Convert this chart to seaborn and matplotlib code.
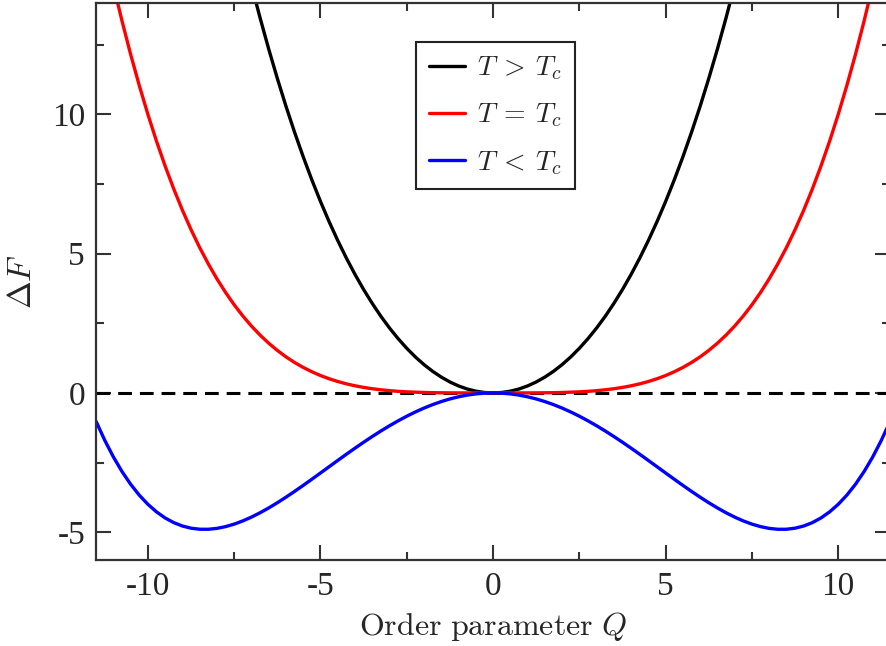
import matplotlib
matplotlib.use("Agg")
import matplotlib.pyplot as plt
from matplotlib.ticker import MultipleLocator
import pandas as pd
import seaborn as sns

# Order parameter grid (quarter-unit steps)
q_full = [-11.5, -11.25, -11.0, -10.75, -10.5, -10.25, -10.0, -9.75, -9.5, -9.25,
          -9.0, -8.75, -8.5, -8.25, -8.0, -7.75, -7.5, -7.25, -7.0, -6.75, -6.5,
          -6.25, -6.0, -5.75, -5.5, -5.25, -5.0, -4.75, -4.5, -4.25, -4.0, -3.75,
          -3.5, -3.25, -3.0, -2.75, -2.5, -2.25, -2.0, -1.75, -1.5, -1.25, -1.0,
          -0.75, -0.5, -0.25, 0.0, 0.25, 0.5, 0.75, 1.0, 1.25, 1.5, 1.75, 2.0,
          2.25, 2.5, 2.75, 3.0, 3.25, 3.5, 3.75, 4.0, 4.25, 4.5, 4.75, 5.0, 5.25,
          5.5, 5.75, 6.0, 6.25, 6.5, 6.75, 7.0, 7.25, 7.5, 7.75, 8.0, 8.25, 8.5,
          8.75, 9.0, 9.25, 9.5, 9.75, 10.0, 10.25, 10.5, 10.75, 11.0, 11.25, 11.5]

# Free energy change above Tc (only the central part fits the frame)
q_above = [-7.5, -7.25, -7.0, -6.75, -6.5, -6.25, -6.0, -5.75, -5.5, -5.25, -5.0,
           -4.75, -4.5, -4.25, -4.0, -3.75, -3.5, -3.25, -3.0, -2.75, -2.5, -2.25,
           -2.0, -1.75, -1.5, -1.25, -1.0, -0.75, -0.5, -0.25, 0.0, 0.25, 0.5, 0.75,
           1.0, 1.25, 1.5, 1.75, 2.0, 2.25, 2.5, 2.75, 3.0, 3.25, 3.5, 3.75, 4.0,
           4.25, 4.5, 4.75, 5.0, 5.25, 5.5, 5.75, 6.0, 6.25, 6.5, 6.75, 7.0, 7.25, 7.5]
f_above = [17.227, 15.903, 14.651, 13.467, 12.348, 11.292, 10.296, 9.359, 8.478,
           7.650, 6.875, 6.150, 5.473, 4.842, 4.256, 3.713, 3.213, 2.752, 2.331,
           1.948, 1.602, 1.291, 1.016, 0.775, 0.568, 0.393, 0.251, 0.141, 0.063,
           0.016, 0.0, 0.016, 0.063, 0.141, 0.251, 0.393, 0.568, 0.775, 1.016,
           1.291, 1.602, 1.948, 2.331, 2.752, 3.213, 3.713, 4.256, 4.842, 5.473,
           6.150, 6.875, 7.650, 8.478, 9.359, 10.296, 11.292, 12.348, 13.467,
           14.651, 15.903, 17.227]

# Free energy change at Tc
f_at = [17.490, 16.018, 14.641, 13.355, 12.155, 11.038, 10.000, 9.037, 8.145,
        7.321, 6.561, 5.862, 5.220, 4.633, 4.096, 3.608, 3.164, 2.763, 2.401,
        2.076, 1.785, 1.526, 1.296, 1.093, 0.915, 0.760, 0.625, 0.509, 0.410,
        0.326, 0.256, 0.198, 0.150, 0.112, 0.081, 0.057, 0.039, 0.026, 0.016,
        0.009, 0.005, 0.002, 0.001, 0.000, 0.000, 0.000, 0.0, 0.000, 0.000, 0.000,
        0.001, 0.002, 0.005, 0.009, 0.016, 0.026, 0.039, 0.057, 0.081, 0.112,
        0.150, 0.198, 0.256, 0.326, 0.410, 0.509, 0.625, 0.760, 0.915, 1.093,
        1.296, 1.526, 1.785, 2.076, 2.401, 2.763, 3.164, 3.608, 4.096, 4.633,
        5.220, 5.862, 6.561, 7.321, 8.145, 9.037, 10.000, 11.038, 12.155, 13.355,
        14.641, 16.018, 17.490]

# Free energy change below Tc
f_below = [-1.025, -1.701, -2.299, -2.824, -3.280, -3.671, -4.000, -4.272, -4.490,
           -4.658, -4.779, -4.857, -4.895, -4.896, -4.864, -4.801, -4.711, -4.596,
           -4.459, -4.303, -4.130, -3.943, -3.744, -3.536, -3.320, -3.099, -2.875,
           -2.650, -2.425, -2.202, -1.984, -1.771, -1.565, -1.367, -1.179, -1.002,
           -0.836, -0.683, -0.544, -0.419, -0.310, -0.216, -0.139, -0.078, -0.035,
           -0.009, 0.0, -0.009, -0.035, -0.078, -0.139, -0.216, -0.310, -0.419,
           -0.544, -0.683, -0.836, -1.002, -1.179, -1.367, -1.565, -1.771, -1.984,
           -2.202, -2.425, -2.650, -2.875, -3.099, -3.320, -3.536, -3.744, -3.943,
           -4.130, -4.303, -4.459, -4.596, -4.711, -4.801, -4.864, -4.896, -4.895,
           -4.857, -4.779, -4.658, -4.490, -4.272, -4.000, -3.671, -3.280, -2.824,
           -2.299, -1.701, -1.025]

labels = [r"$T\:>\:T_c$", r"$T\:=\:T_c$", r"$T\:<\:T_c$"]
colors = ["#000000", "#ff0000", "#0000ff"]

sns.set_style("ticks")
plt.rcParams["font.family"] = ["Liberation Serif", "DejaVu Serif"]
plt.rcParams["mathtext.fontset"] = "cm"
plt.rcParams["axes.unicode_minus"] = False

fig = plt.figure(figsize=(8.86, 6.46), dpi=100)
ax = fig.add_axes([0.1085, 0.1331, 0.896, 0.8622])

# zero reference
ax.axhline(0.0, color="black", lw=2.2, ls=(0, (4.5, 2.6)), zorder=1)

df_above = pd.DataFrame({"Q": q_above, "F": f_above})
df_at = pd.DataFrame({"Q": q_full, "F": f_at})
df_below = pd.DataFrame({"Q": q_full, "F": f_below})

for df, lab, col in zip([df_above, df_at, df_below], labels, colors):
    sns.lineplot(data=df, x="Q", y="F", color=col, lw=2.4, label=lab,
                 sort=False, estimator=None, ax=ax, zorder=2)

ax.set_xlim(-11.5, 11.5)
ax.set_ylim(-6, 14)
ax.xaxis.set_major_locator(MultipleLocator(5))
ax.xaxis.set_minor_locator(MultipleLocator(2.5))
ax.yaxis.set_major_locator(MultipleLocator(5))
ax.yaxis.set_minor_locator(MultipleLocator(2.5))

for s in ax.spines.values():
    s.set_linewidth(1.6)
    s.set_color("#333333")

ax.tick_params(which="both", direction="in", top=True, right=True,
               color="#333333", width=1.5)
ax.tick_params(which="major", length=11, labelsize=24, pad=8)
ax.tick_params(which="minor", length=6)

ax.set_xlabel(r"$\mathrm{Order\ parameter}\ Q$", fontsize=23, labelpad=6)
ax.set_ylabel(r"$\Delta F$", fontsize=24, labelpad=10)

leg = ax.legend(loc="upper left", bbox_to_anchor=(0.403, 0.93), fontsize=20,
                frameon=True, fancybox=False, handlelength=1.3, handletextpad=0.45,
                borderpad=0.45, labelspacing=0.7, borderaxespad=0.0)
leg.get_frame().set_edgecolor("#222222")
leg.get_frame().set_linewidth(1.5)
leg.get_frame().set_alpha(1.0)

fig.savefig("out.png", dpi=100)
